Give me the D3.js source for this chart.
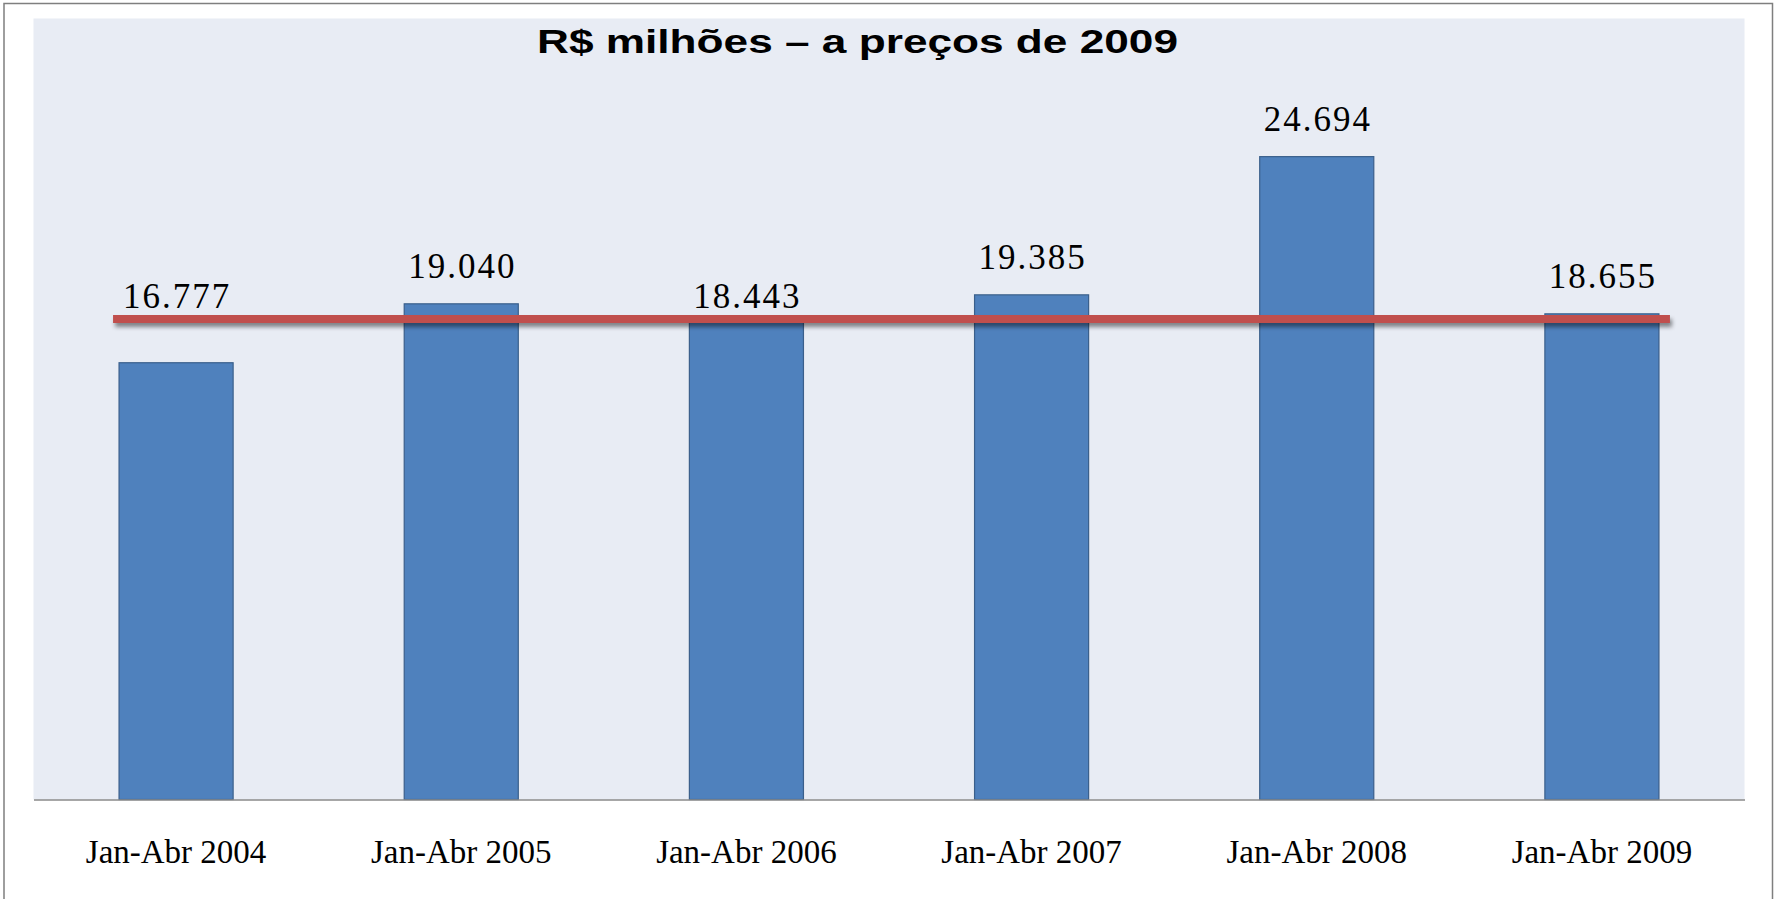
<!DOCTYPE html>
<html>
<head>
<meta charset="utf-8">
<script src="https://cdn.jsdelivr.net/npm/d3@7"></script>
<style>
  html, body { margin: 0; padding: 0; background: #fff; }
  svg { display: block; }
</style>
</head>
<body>
<div id="chart"></div>
<script>
// dados (R$ milhões, a preços de 2009)
const categories = ['Jan-Abr 2004', 'Jan-Abr 2005', 'Jan-Abr 2006', 'Jan-Abr 2007', 'Jan-Abr 2008', 'Jan-Abr 2009'];
const values = [16.777, 19.040, 18.443, 19.385, 24.694, 18.655];
const valueLabels = ['16.777', '19.040', '18.443', '19.385', '24.694', '18.655'];
const refLine = 18.46;
const yDomain = [0, 30];
const title = 'R$ milhões – a preços de 2009';

const width = 1781;
const height = 899;
const plot = { left: 33.5, right: 1744.5, top: 18.5, bottom: 799.5 };

const svg = d3.select('#chart').append('svg')
  .attr('width', width)
  .attr('height', height);

const defs = svg.append('defs');
const shadow = defs.append('filter')
  .attr('id', 'shadow')
  .attr('filterUnits', 'userSpaceOnUse')
  .attr('x', 0).attr('y', 0)
  .attr('width', width).attr('height', height);
shadow.append('feDropShadow')
  .attr('dx', 2).attr('dy', 4)
  .attr('stdDeviation', 2)
  .attr('flood-color', '#000')
  .attr('flood-opacity', 0.45);

// moldura externa
svg.append('rect')
  .attr('x', 4).attr('y', 3.5)
  .attr('width', 1768.5).attr('height', 905)
  .attr('fill', '#fff')
  .attr('stroke', '#7f7f7f')
  .attr('stroke-width', 1.5);

// fundo da área do gráfico
svg.append('rect')
  .attr('x', plot.left).attr('y', plot.top)
  .attr('width', plot.right - plot.left)
  .attr('height', plot.bottom - plot.top)
  .attr('fill', '#e8ecf4');

const x = d3.scaleBand()
  .domain(categories)
  .range([plot.left, plot.right])
  .paddingInner(0.6)
  .paddingOuter(0.3);

const y = d3.scaleLinear()
  .domain(yDomain)
  .range([plot.bottom, plot.top]);

// barras
svg.append('g').attr('class', 'bars')
  .selectAll('rect')
  .data(values)
  .join('rect')
  .attr('x', (d, i) => x(categories[i]))
  .attr('y', (d) => y(d))
  .attr('width', x.bandwidth())
  .attr('height', (d) => y(0) - y(d))
  .attr('fill', '#4f81bd')
  .attr('stroke', '#3a5f8b')
  .attr('stroke-width', 1.2);

// eixo x
const xAxis = svg.append('g')
  .attr('transform', `translate(0,${plot.bottom})`)
  .call(d3.axisBottom(x).tickSize(0).tickPadding(0));
xAxis.select('.domain')
  .attr('stroke', '#8a8a8a')
  .attr('stroke-width', 1.5);
xAxis.selectAll('text')
  .attr('y', 63)
  .attr('dy', 0)
  .attr('fill', '#000')
  .style('font-family', '"Liberation Serif", "DejaVu Serif", serif')
  .style('font-size', '33px');

// linha de referência vermelha
const lineStart = x(categories[0]) - 6;
const lineEnd = x(categories[categories.length - 1]) + x.bandwidth() + 11;
svg.append('line')
  .attr('x1', lineStart).attr('x2', lineEnd)
  .attr('y1', y(refLine)).attr('y2', y(refLine))
  .attr('stroke', '#c0504d')
  .attr('stroke-width', 8)
  .attr('filter', 'url(#shadow)');

// rótulos de valor
svg.append('g').attr('class', 'labels')
  .selectAll('text')
  .data(values)
  .join('text')
  .attr('x', (d, i) => x(categories[i]) + x.bandwidth() / 2 + 1)
  .attr('y', (d) => d < refLine ? y(refLine) - 11 : y(d) - 26)
  .attr('text-anchor', 'middle')
  .attr('fill', '#000')
  .style('font-family', '"Liberation Serif", "DejaVu Serif", serif')
  .style('font-size', '35px')
  .style('letter-spacing', '2px')
  .text((d, i) => valueLabels[i]);

// título
svg.append('text')
  .attr('x', 537)
  .attr('y', 53)
  .attr('textLength', 641)
  .attr('lengthAdjust', 'spacingAndGlyphs')
  .attr('fill', '#000')
  .style('font-family', '"Liberation Sans", Arial, sans-serif')
  .style('font-weight', 'bold')
  .style('font-size', '34px')
  .text(title);
</script>
</body>
</html>
